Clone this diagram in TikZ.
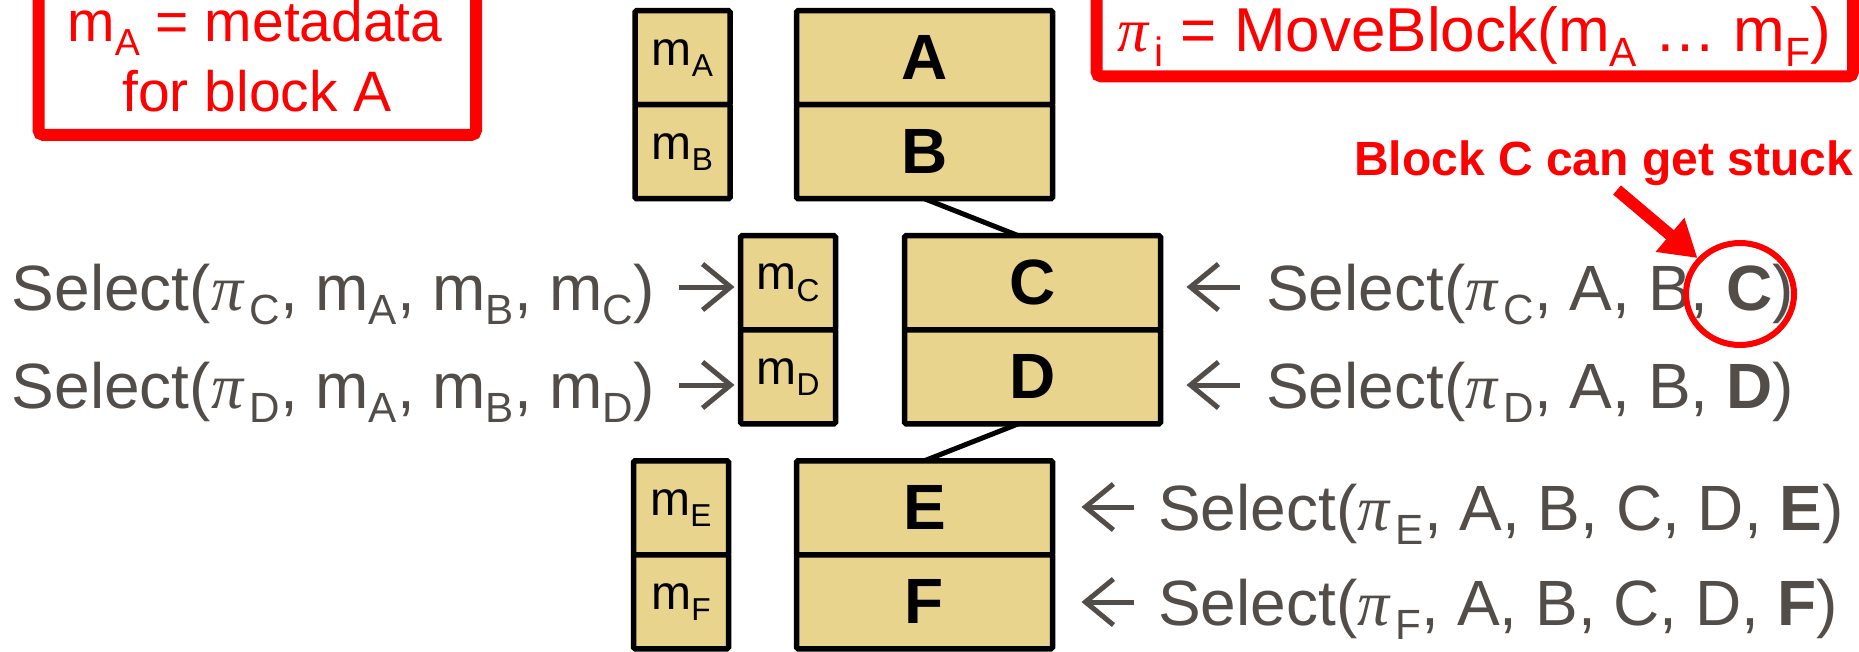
\documentclass[tikz,border=0pt]{standalone}
\usepackage{graphicx}
\usepackage{fontspec}
\setmainfont{Liberation Sans}
\newfontfamily\grk{Liberation Serif}
\usepackage{tikz}
\usetikzlibrary{arrows.meta,positioning,shapes.geometric}
\definecolor{blockfill}{HTML}{E8D48C}
\definecolor{selgray}{HTML}{524D48}
\definecolor{hilite}{HTML}{FF0000}
\newcommand{\msub}[1]{\raisebox{-0.23em}{\scalebox{0.66}{#1}}}
\newcommand{\pisub}[1]{{\grk\itshape π}\kern0.1em\msub{#1}}
\tikzset{
  blk/.style={draw=black,fill=blockfill,line width=5.5pt,rounded corners=1.5pt,outer sep=0pt,inner sep=0pt,
    minimum width=256pt,minimum height=94pt,font=\fontsize{64}{76}\selectfont\bfseries},
  meta/.style={blk,minimum width=95pt,font=\fontsize{48}{58}\selectfont},
  sel/.style={inner sep=0pt,text=selgray,font=\fontsize{64}{76}\selectfont},
  selarr/.style={-{Straight Barb[length=28pt,width=46pt]},draw=selgray,line width=5pt},
  link/.style={draw=black,line width=5pt},
  notebox/.style={draw=hilite,line width=12pt,rounded corners=5pt},
  notetxt/.style={inner sep=0pt,text=hilite,anchor=base,font=\fontsize{57}{70}\selectfont},
  title/.style={inner sep=0pt,text=hilite,anchor=base west,font=\fontsize{62}{74}\selectfont},
  alert/.style={inner sep=0pt,text=hilite,anchor=base west,font=\fontsize{48}{58}\selectfont\bfseries},
  ring/.style={ellipse,draw=hilite,line width=6pt,minimum width=108pt,minimum height=102pt,inner sep=0pt},
  alarr/.style={-{Triangle[length=36pt,width=42pt]},draw=hilite,line width=12pt},
}
\begin{document}
\begin{tikzpicture}[x=1pt,y=-1pt]
  \useasboundingbox (0,0) rectangle (1859,652);
  \clip (0,0) rectangle (1859,652);
  % notes at the top
  \draw[notebox] (38.5,-30) rectangle (476,135);
  \node[notetxt] (metaA) at (255,42) {m\msub{A} = metadata};
  \node[notetxt] (metaB) at (257,112) {for block A};
  \draw[notebox] (1096.5,-30) rectangle (1853,76.5);
  \node[title] (moveblk) at (1117,52) {\pisub{i} = MoveBlock(m\msub{A} … m\msub{F})};
  % data blocks
  \node[blk] (A) at (924.5,57.75) {A};
  \node[blk,below=0pt of A] (B) {B};
  \node[blk] (C) at (1032.5,282.75) {C};
  \node[blk,below=0pt of C] (D) {D};
  \node[blk] (E) at (924.5,507.75) {E};
  \node[blk,below=0pt of E] (F) {F};
  \draw[link] (B.south) -- ([xshift=-14pt]C.north);
  \draw[link] ([xshift=-14pt]D.south) -- (E.north);
  % metadata
  \node[meta] (mA) at (682.5,57.75) {m\msub{A}};
  \node[meta,below=0pt of mA] (mB) {m\msub{B}};
  \node[meta] (mC) at (788,282.75) {m\msub{C}};
  \node[meta,below=0pt of mC] (mD) {m\msub{D}};
  \node[meta] (mE) at (681,507.75) {m\msub{E}};
  \node[meta,below=0pt of mE] (mF) {m\msub{F}};
  % selects on metadata
  \node[sel,anchor=base east] (selmC) at (655,310) {Select(\pisub{C}, m\msub{A}, m\msub{B}, m\msub{C})};
  \node[sel,anchor=base east] (selmD) at (655,408) {Select(\pisub{D}, m\msub{A}, m\msub{B}, m\msub{D})};
  \draw[selarr,shorten <=24pt,shorten >=6pt] ([yshift=23pt]selmC.base east) -- ([yshift=23pt]selmC.base east -| mC.west);
  \draw[selarr,shorten <=24pt,shorten >=6pt] ([yshift=23pt]selmD.base east) -- ([yshift=23pt]selmD.base east -| mD.west);
  % selects on blocks
  \node[sel,anchor=base west] (selC) at (1266,310) {Select(\pisub{C}, A, B, \textbf{C})};
  \node[sel,anchor=base west] (selD) at (1266,408) {Select(\pisub{D}, A, B, \textbf{D})};
  \node[sel,anchor=base west] (selE) at (1158,530) {Select(\pisub{E}, A, B, C, D, \textbf{E})};
  \node[sel,anchor=base west] (selF) at (1158,625) {Select(\pisub{F}, A, B, C, D, \textbf{F})};
  \draw[selarr,shorten <=26pt,shorten >=26pt] ([yshift=23pt]selC.base west) -- ([yshift=23pt]selC.base west -| C.east);
  \draw[selarr,shorten <=26pt,shorten >=26pt] ([yshift=23pt]selD.base west) -- ([yshift=23pt]selD.base west -| D.east);
  \draw[selarr,shorten <=24pt,shorten >=29pt] ([yshift=23pt]selE.base west) -- ([yshift=23pt]selE.base west -| E.east);
  \draw[selarr,shorten <=24pt,shorten >=29pt] ([yshift=23pt]selF.base west) -- ([yshift=23pt]selF.base west -| F.east);
  % stuck block
  \node[alert] (stuck) at (1354,176) {Block C can get stuck};
  \node[ring] (ringC) at (1740,294) {};
  \coordinate (tail) at (1617,190);
  \draw[alarr] (tail) -- (ringC);
\end{tikzpicture}
\end{document}
